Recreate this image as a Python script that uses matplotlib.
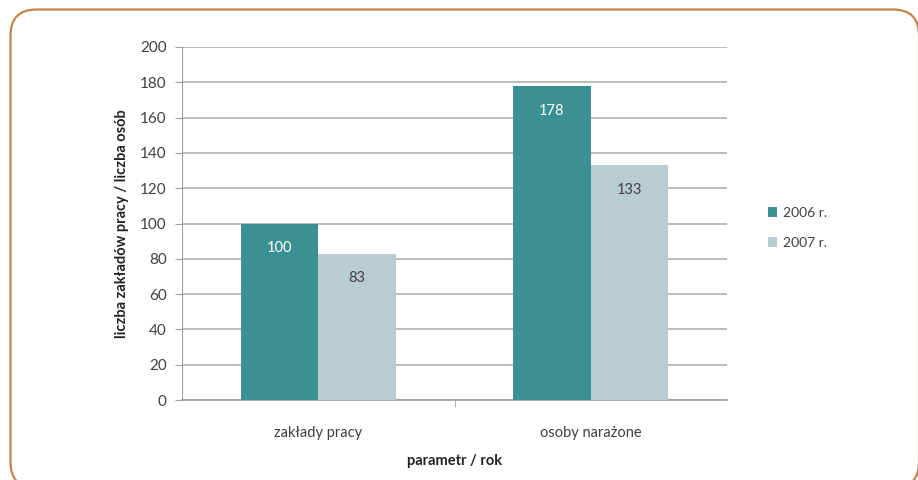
import numpy as np
import matplotlib.pyplot as plt
from matplotlib.patches import FancyBboxPatch

categories = ['zakłady pracy', 'osoby narażone']
series_names = ['2006 r.', '2007 r.']
values_2006 = [100, 178]
values_2007 = [83, 133]
yticks = [0, 20, 40, 60, 80, 100, 120, 140, 160, 180, 200]

c2006 = '#3b9093'
c2007 = '#b8cdd2'
txt = '#404040'

plt.rcParams['font.family'] = ['Lato', 'DejaVu Sans']

W, H = 918, 480
fig = plt.figure(figsize=(W / 100, H / 100), dpi=100)

# background axes in pixel units (y up), for the rounded orange frame
bg = fig.add_axes([0, 0, 1, 1])
bg.set_xlim(0, W)
bg.set_ylim(0, H)
bg.axis('off')
bg.add_patch(FancyBboxPatch((10.5, H - 488), 919 - 10.5, 488 - 9.5,
                            boxstyle='round,pad=0,rounding_size=26',
                            fill=False, edgecolor='#c8834b', linewidth=1.6,
                            clip_on=False))

ax = fig.add_axes([182 / W, 1 - 400 / H, (727 - 182) / W, (400 - 47) / H])

x = np.arange(len(categories))
w = 0.285
b1 = ax.bar(x - w / 2, values_2006, w, color=c2006, label=series_names[0], zorder=3)
b2 = ax.bar(x + w / 2, values_2007, w, color=c2007, label=series_names[1], zorder=3)

for rect, v in zip(b1, values_2006):
    ax.text(rect.get_x() + rect.get_width() / 2, v - 14, str(v), ha='center', va='center',
            color='white', fontsize=10.5)
for rect, v in zip(b2, values_2007):
    ax.text(rect.get_x() + rect.get_width() / 2, v - 14, str(v), ha='center', va='center',
            color=txt, fontsize=10.5)

ax.set_xlim(-0.5, 1.5)
ax.set_ylim(0, 200)
ax.set_yticks(yticks)
ax.set_xticks(x)
ax.set_xticklabels(categories)
ax.set_xticks([0.5], minor=True)
ax.tick_params(axis='x', which='major', length=0, pad=19, labelsize=10.5, labelcolor=txt)
ax.tick_params(axis='x', which='minor', length=5, color='#a0a0a0')
ax.tick_params(axis='y', length=5, color='#a0a0a0', labelsize=11, labelcolor=txt, pad=6)
ax.yaxis.grid(True, color='#b0b0b0', linewidth=1.2, zorder=0)
ax.set_axisbelow(True)
for s in ['top', 'right']:
    ax.spines[s].set_visible(False)
ax.spines['left'].set_color('#a0a0a0')
ax.spines['bottom'].set_color('#a0a0a0')
ax.spines['bottom'].set_linewidth(1.2)

ax.set_ylabel('liczba zakładów pracy / liczba osób', fontsize=10.5, fontweight='bold',
              color='#222222', labelpad=8)
ax.set_xlabel('parametr / rok', fontsize=10.5, fontweight='bold', color='#222222', labelpad=10)

fig.legend(handles=[b1, b2], labels=series_names, loc='center left',
           bbox_to_anchor=(755 / W, 1 - 228 / H), frameon=False, fontsize=10,
           handlelength=0.7, handleheight=0.7, handletextpad=0.4, labelspacing=1.3,
           labelcolor=txt)

fig.savefig('out.png', dpi=100)
